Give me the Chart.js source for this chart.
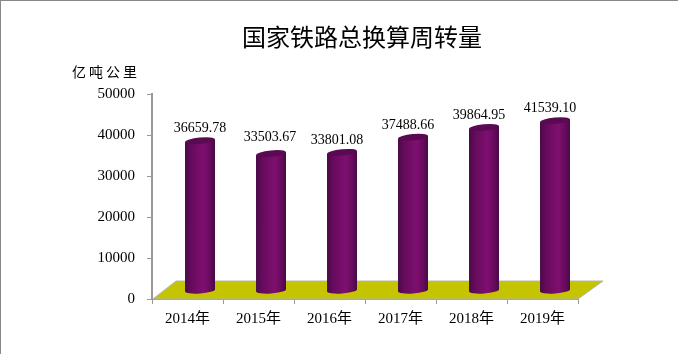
<!DOCTYPE html>
<html>
<head>
<meta charset="utf-8">
<style>
  html, body { margin: 0; padding: 0; background: #fff; overflow: hidden; }
  #wrap { position: absolute; left: 0; top: 0; width: 678px; height: 354px; }
</style>
<script src="https://cdn.jsdelivr.net/npm/chart.js@4/dist/chart.umd.js"></script>
</head>
<body>
<div id="wrap"><canvas id="rail_chart" width="678" height="354"></canvas></div>
<script>
const years = ["2014年", "2015年", "2016年", "2017年", "2018年", "2019年"];
const turnover = [36659.78, 33503.67, 33801.08, 37488.66, 39864.95, 41539.10];
const turnover_labels = ["36659.78", "33503.67", "33801.08", "37488.66", "39864.95", "41539.10"];
const y_ticks = [0, 10000, 20000, 30000, 40000, 50000];

const serif = "'Liberation Serif', 'Noto Sans CJK SC', serif";
const grey = "#999999";

// the data labels were hand placed in the original, so they don't sit evenly
const label_nudge_x = [0, -1, -5, -5, -5, -5];
const label_nudge_y = [-12, -16.5, -12, -12, -12.5, -12.5];

// frame + title + unit
const text_plugin = {
  id: "texts",
  beforeDraw(chart) {
    const { ctx, width, height } = chart;
    ctx.save();
    ctx.fillStyle = "#888888";
    ctx.fillRect(0, 0, width, 1);
    ctx.fillRect(0, 0, 1, height);
    ctx.restore();
  },
  afterDraw(chart) {
    const { ctx } = chart;
    ctx.save();
    ctx.fillStyle = "#000";
    ctx.textBaseline = "middle";
    ctx.font = "24px 'Noto Sans CJK SC'";
    ctx.textAlign = "center";
    ctx.fillText("国家铁路总换算周转量", 362, 37);
    ctx.textAlign = "left";
    ctx.font = "14px 'Noto Sans CJK SC'";
    ctx.letterSpacing = "3px";
    ctx.fillText("亿吨公里", 72, 72);
    ctx.restore();
  },
};

// floor slab, bars stand on it so this goes first
const floor_plugin = {
  id: "floor",
  beforeDatasetsDraw(chart) {
    const { ctx, chartArea: a } = chart;
    ctx.save();
    ctx.beginPath();
    ctx.moveTo(a.left + 1, a.bottom);
    ctx.lineTo(a.left + 24, a.bottom - 18);
    ctx.lineTo(a.right + 25, a.bottom - 18);
    ctx.lineTo(a.right, a.bottom);
    ctx.closePath();
    ctx.fillStyle = "#c4c400";
    ctx.fill();
    ctx.strokeStyle = "#b4b4b4";
    ctx.lineWidth = 1;
    ctx.stroke();
    ctx.restore();
  },
};

// native bar gets skipped, cylinders are drawn from the bar elements instead
const cylinder_plugin = {
  id: "cylinder",
  beforeDatasetDraw() {
    return false;
  },
  afterDatasetsDraw(chart) {
    const { ctx } = chart;
    const dx = 12.5;
    const dy = -8;
    chart.getDatasetMeta(0).data.forEach((bar, i) => {
      const x = bar.x + dx;
      const top = bar.y + dy;
      const base = bar.base + dy;
      const w = bar.width / 2;
      const g = ctx.createLinearGradient(x - w, 0, x + w, 0);
      g.addColorStop(0, "#4a0a48");
      g.addColorStop(0.2, "#650b5c");
      g.addColorStop(0.62, "#7f0f6f");
      g.addColorStop(0.85, "#650b5c");
      g.addColorStop(1, "#470946");
      ctx.save();
      ctx.fillStyle = g;
      ctx.beginPath();
      ctx.moveTo(x - w, top + 1.5);
      ctx.lineTo(x + w, top - 1.5);
      ctx.lineTo(x + w, base - 1);
      ctx.ellipse(x, base, w, 3, -0.07, 0, Math.PI);
      ctx.closePath();
      ctx.fill();
      ctx.beginPath();
      ctx.ellipse(x, top, w, 3.2, -0.1, 0, Math.PI * 2);
      ctx.fillStyle = "#5a0a52";
      ctx.fill();
      ctx.restore();

      ctx.save();
      ctx.font = "14px " + serif;
      ctx.fillStyle = "#000";
      ctx.textAlign = "center";
      ctx.textBaseline = "middle";
      ctx.fillText(turnover_labels[i], x + label_nudge_x[i], top + label_nudge_y[i]);
      ctx.restore();
    });
  },
};

const rail_chart = new Chart(document.getElementById("rail_chart"), {
  type: "bar",
  data: {
    labels: years,
    datasets: [
      {
        data: turnover,
        backgroundColor: "#7f0f6f",
        barThickness: 30,
      },
    ],
  },
  options: {
    responsive: false,
    animation: false,
    layout: { padding: { left: 0, right: 100, top: 94, bottom: 20 } },
    plugins: {
      legend: { display: false },
      tooltip: { enabled: false },
    },
    scales: {
      x: {
        grid: { drawOnChartArea: false, color: grey, tickLength: 5, offset: true },
        border: { color: grey, width: 2 },
        ticks: { color: "#000", font: { family: serif, size: 15 }, padding: 6, maxRotation: 0 },
      },
      y: {
        min: 0,
        max: 50000,
        afterBuildTicks(axis) {
          axis.ticks = y_ticks.map(v => ({ value: v }));
        },
        afterFit(axis) {
          axis.width = 152;
        },
        grid: { drawOnChartArea: false, color: grey, tickLength: 5 },
        border: { color: grey, width: 2 },
        ticks: {
          color: "#000",
          font: { family: serif, size: 15 },
          padding: 12,
          callback: v => String(v),
        },
      },
    },
  },
  plugins: [text_plugin, floor_plugin, cylinder_plugin],
});
</script>
</body>
</html>
